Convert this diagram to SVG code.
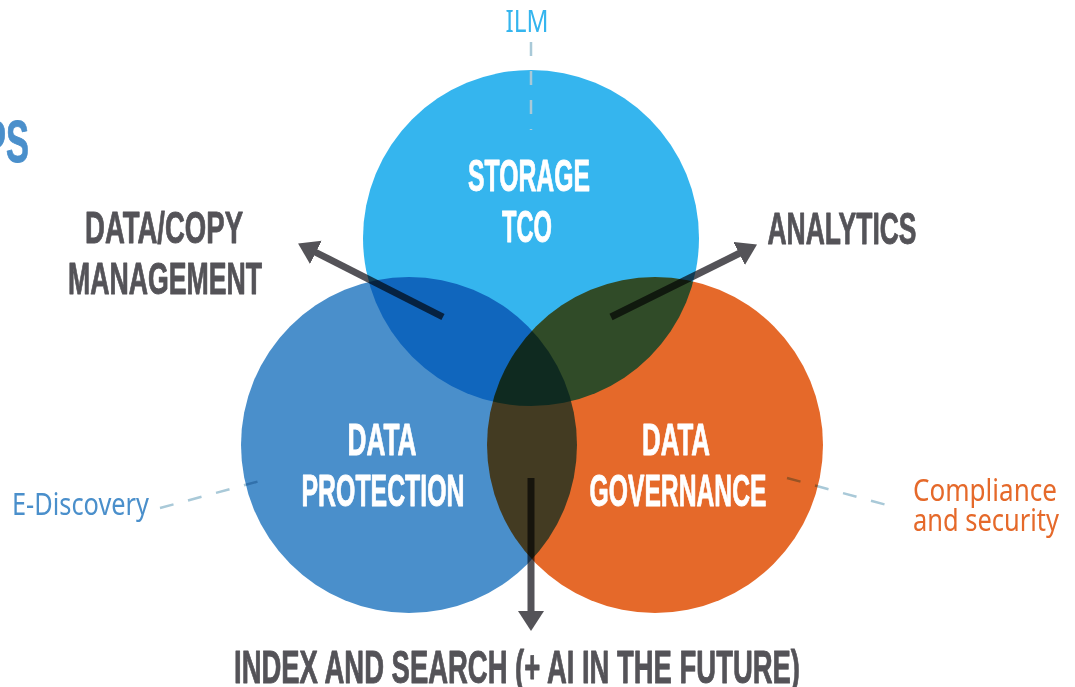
<svg xmlns="http://www.w3.org/2000/svg" width="1075" height="687" viewBox="0 0 1075 687">
  <style>
    .blend { mix-blend-mode: multiply; }
    .head { font-family: "Liberation Sans", Arial, sans-serif; font-weight: bold; font-size: 45px; stroke-width: 0.9px; stroke-linejoin: round; }
    .head.white { fill: #ffffff; stroke: #ffffff; }
    .head.gray { fill: #545358; stroke: #545358; }
    .note { font-family: "Noto Sans", "Open Sans", sans-serif; font-size: 31px; }
    .arrow { fill: none; stroke: #545358; stroke-width: 7; marker-end: url(#tip); }
    .dash { fill: none; stroke: #a9c9d8; stroke-width: 2.5; stroke-dasharray: 14 15; }
  </style>
  <defs>
    <marker id="tip" markerUnits="userSpaceOnUse" markerWidth="21" markerHeight="27" refX="1" refY="13" orient="auto">
      <path d="M0,0 L20,13 L0,26 z" fill="#545358"/>
    </marker>
  </defs>

  <rect width="1075" height="687" fill="#ffffff"/>

  <!-- circles: multiplied so overlaps darken -->
  <g id="storage-tco">
    <circle class="blend" cx="531" cy="238" r="168" fill="#35b5ee"/>
  </g>
  <g id="data-protection">
    <circle class="blend" cx="409" cy="445" r="168" fill="#4a8fcb"/>
  </g>
  <g id="data-governance">
    <circle class="blend" cx="655" cy="445" r="168" fill="#e5692a"/>
  </g>

  <!-- connectors -->
  <g id="connectors">
    <path class="dash" d="M531,42 L531,130"/>
    <path class="dash blend" d="M160,508 L271,478"/>
    <path class="dash blend" d="M787,478 L898,508"/>
    <path class="arrow blend" d="M443,317 L315,252"/>
    <path class="arrow blend" d="M611,317 L740,253"/>
    <path class="arrow blend" d="M531,478 L531,612"/>
  </g>

  <!-- circle labels -->
  <g id="storage-tco-label">
    <text class="head white" x="529" y="191" text-anchor="middle" textLength="122" lengthAdjust="spacingAndGlyphs">STORAGE</text>
    <text class="head white" x="527" y="242" text-anchor="middle" textLength="50" lengthAdjust="spacingAndGlyphs">TCO</text>
  </g>
  <g id="data-protection-label">
    <text class="head white" x="382" y="455" text-anchor="middle" textLength="69" lengthAdjust="spacingAndGlyphs">DATA</text>
    <text class="head white" x="383" y="506" text-anchor="middle" textLength="163" lengthAdjust="spacingAndGlyphs">PROTECTION</text>
  </g>
  <g id="data-governance-label">
    <text class="head white" x="676" y="455" text-anchor="middle" textLength="68" lengthAdjust="spacingAndGlyphs">DATA</text>
    <text class="head white" x="678" y="506" text-anchor="middle" textLength="177" lengthAdjust="spacingAndGlyphs">GOVERNANCE</text>
  </g>

  <!-- outcome labels -->
  <g id="copy-management">
    <text class="head gray" x="164" y="243" text-anchor="middle" textLength="158" lengthAdjust="spacingAndGlyphs">DATA/COPY</text>
    <text class="head gray" x="165" y="294" text-anchor="middle" textLength="194" lengthAdjust="spacingAndGlyphs">MANAGEMENT</text>
  </g>
  <g id="analytics">
    <text class="head gray" x="842" y="244" text-anchor="middle" textLength="149" lengthAdjust="spacingAndGlyphs">ANALYTICS</text>
  </g>
  <g id="index-search">
    <text class="head gray" x="517" y="683" text-anchor="middle" textLength="566" lengthAdjust="spacingAndGlyphs" style="font-size:46px">INDEX AND SEARCH (+ AI IN THE FUTURE)</text>
  </g>

  <!-- side notes -->
  <g id="ilm">
    <text class="note" x="527" y="32" text-anchor="middle" fill="#35b5ee" textLength="43" lengthAdjust="spacingAndGlyphs">ILM</text>
  </g>
  <g id="e-discovery">
    <text class="note" x="12" y="515" fill="#4a8fcb" textLength="137" lengthAdjust="spacingAndGlyphs">E-Discovery</text>
  </g>
  <g id="compliance">
    <text class="note" x="913" y="501" fill="#e5692a" textLength="144" lengthAdjust="spacingAndGlyphs">Compliance</text>
    <text class="note" x="913" y="531" fill="#e5692a" textLength="146" lengthAdjust="spacingAndGlyphs">and security</text>
  </g>

  <!-- clipped heading at the left edge -->
  <g id="edge-heading">
    <text class="head" x="29" y="162" text-anchor="end" fill="#4a8fcb" stroke="#4a8fcb" style="font-size:60px" textLength="46" lengthAdjust="spacingAndGlyphs">PS</text>
  </g>
</svg>
